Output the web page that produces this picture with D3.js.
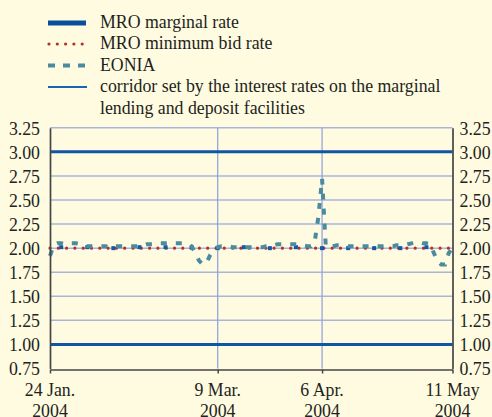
<!DOCTYPE html>
<html><head><meta charset="utf-8">
<script src="https://cdn.jsdelivr.net/npm/d3@7"></script>
<style>
html,body{margin:0;padding:0;background:#fefbe1;}
svg{display:block;}
</style></head>
<body><svg id="c" width="492" height="417"></svg>
<script>
// ---- data ----
const startDate = "2004-01-24";
const endDate = "2004-05-11";
// EONIA, one value per calendar day from 24 Jan 2004 to 11 May 2004
const eoniaValues = [
1.92,2.03,2.05,2.05,2.04,2.05,2.05,2.05,2.04,2.03,
2.02,2.02,2.02,2.02,2.02,2.02,2.01,2.01,2.02,2.02,
2.02,2.02,2.02,2.02,2.02,2.03,2.04,2.04,2.04,2.05,
2.05,2.05,2.05,2.05,2.05,2.05,2.05,2.04,2.02,1.95,
1.87,1.83,1.85,1.93,1.99,2.01,2.02,2.02,2.02,2.01,
2.01,2.01,2.01,2.01,2.01,2.01,2.01,2.01,2.02,2.02,
2.03,2.04,2.04,2.04,2.04,2.04,2.04,2.04,2.03,2.02,
2.02,2.06,2.32,2.72,2.02,2.01,2.02,2.03,2.03,2.03,
2.02,2.02,2.02,2.02,2.02,2.02,2.02,2.02,2.02,2.02,
2.02,2.02,2.02,2.03,2.03,2.03,2.04,2.05,2.06,2.06,
2.05,2.05,2.04,1.95,1.86,1.83,1.83,1.95,2.00];
// MRO marginal rate (weekly main refinancing operations)
const mroDates = ["2004-01-27","2004-02-03","2004-02-10","2004-02-17","2004-02-24","2004-03-02","2004-03-09","2004-03-16","2004-03-23","2004-03-30","2004-04-06","2004-04-13","2004-04-20","2004-04-27","2004-05-04"];
const mroMarginal = [2.01,2.01,2.00,2.01,2.01,2.01,2.00,2.01,2.00,2.01,2.00,2.00,2.00,2.00,2.01];
// MRO minimum bid rate
const minBidDates = ["2004-01-24","2004-05-11"];
const minBidRate = [2.00,2.00];
// corridor: marginal lending and deposit facility rates
const corridorDates = ["2004-01-24","2004-05-11"];
const lendingRate = [3.00,3.00];
const depositRate = [1.00,1.00];
// axes
const yTicks = [0.75,1.00,1.25,1.50,1.75,2.00,2.25,2.50,2.75,3.00,3.25];
const xTickDates = ["2004-01-24","2004-03-09","2004-04-06","2004-05-11"];
const xTickLabels = [["24 Jan.","2004"],["9 Mar.","2004"],["6 Apr.","2004"],["11 May","2004"]];
const legendLabels = [["MRO marginal rate"],["MRO minimum bid rate"],["EONIA"],["corridor set by the interest rates on the marginal","lending and deposit facilities"]];

// ---- chart ----
const FONT = "'Liberation Serif', Tinos, 'Times New Roman', Times, 'DejaVu Serif', serif";
const FS = 17.8;
const parse = d3.utcParse("%Y-%m-%d");
const svg = d3.select("#c");
svg.append("rect").attr("width",492).attr("height",417).attr("fill","#fefbe1");

const x = d3.scaleUtc().domain([parse(startDate), parse(endDate)]).range([50, 452.5]);
const y = d3.scaleLinear().domain([0.75, 3.25]).range([368.5, 127.8]);

const C = {blue:"#0b4f9c", corridor:"#0f56a3", red:"#b3302e", teal:"#4a8b9e", grid:"#a9b6dc", vgrid:"#8d9de0", axis:"#454545"};

// horizontal gridlines
svg.append("g").selectAll("line").data(yTicks.filter(v=>v>0.75)).join("line")
  .attr("x1",x.range()[0]).attr("x2",x.range()[1])
  .attr("y1",d=>y(d)).attr("y2",d=>y(d))
  .attr("stroke",C.grid).attr("stroke-width",1.5);
// vertical gridlines
svg.append("g").selectAll("line").data(xTickDates.slice(1,3)).join("line")
  .attr("x1",d=>x(parse(d))).attr("x2",d=>x(parse(d)))
  .attr("y1",y(3.25)).attr("y2",y(0.75))
  .attr("stroke",C.vgrid).attr("stroke-width",1.2);

// corridor
const line = d3.line().x(d=>x(d[0])).y(d=>y(d[1]));
[lendingRate, depositRate].forEach(arr=>{
  svg.append("path").datum(corridorDates.map((d,i)=>[parse(d),arr[i]]))
    .attr("d",line).attr("fill","none").attr("stroke",C.corridor).attr("stroke-width",3);
});

// min bid rate (dotted)
svg.append("path").datum(minBidDates.map((d,i)=>[parse(d),minBidRate[i]]))
  .attr("d",line).attr("fill","none").attr("stroke",C.red).attr("stroke-width",3.2)
  .attr("stroke-linecap","round").attr("stroke-dasharray","0,8.3");

// MRO marginal rate squares
svg.append("g").selectAll("rect").data(mroDates.map((d,i)=>[parse(d),mroMarginal[i]])).join("rect")
  .attr("x",d=>x(d[0])-2).attr("y",d=>y(d[1])-2).attr("width",4).attr("height",4)
  .attr("fill","#1358a8");

// EONIA
const eoniaData = eoniaValues.map((v,i)=>[d3.utcDay.offset(parse(startDate), i), v]);
svg.append("path").datum(eoniaData).attr("d",line).attr("fill","none")
  .attr("stroke",C.teal).attr("stroke-width",4).attr("stroke-dasharray","6,9");

// axes
const yl = d3.axisLeft(y).tickValues(yTicks).tickFormat(d3.format(".2f")).tickSize(0).tickPadding(10);
const yr = d3.axisRight(y).tickValues(yTicks).tickFormat(d3.format(".2f")).tickSize(0).tickPadding(7);
const gl = svg.append("g").attr("transform","translate(50,0)").call(yl);
const gr = svg.append("g").attr("transform","translate(452.5,0)").call(yr);
[gl,gr].forEach(g=>{
  g.attr("font-family",FONT).attr("font-size",FS);
  g.select(".domain").attr("stroke",C.axis).attr("stroke-width",1.7);
  g.selectAll("text").attr("font-family",FONT).attr("font-size",FS).attr("fill","#231f20").attr("dy","0.36em");
});
const xa = d3.axisBottom(x).tickValues(xTickDates.map(parse)).tickFormat("").tickSizeInner(4).tickSizeOuter(0);
const gx = svg.append("g").attr("transform",`translate(0,${y(0.75)+1})`).call(xa);
gx.select(".domain").attr("stroke",C.axis).attr("stroke-width",1.7);
gx.selectAll(".tick line").attr("stroke",C.axis).attr("stroke-width",1.5);

const xl = svg.append("g").selectAll("text").data(xTickDates.map((d,i)=>[parse(d),xTickLabels[i]])).join("text")
  .attr("text-anchor","middle").attr("font-family",FONT).attr("font-size",FS).attr("fill","#231f20");
xl.each(function(d){
  const t = d3.select(this);
  d[1].forEach((s,j)=>t.append("tspan").attr("x",x(d[0])).attr("y",396+j*21).text(s));
});

// legend
const lg = svg.append("g");
const rowsY = [23,44,65.5,87];
lg.append("line").attr("x1",48).attr("x2",86).attr("y1",rowsY[0]).attr("y2",rowsY[0]).attr("stroke",C.blue).attr("stroke-width",5);
lg.append("line").attr("x1",49).attr("x2",86).attr("y1",rowsY[1]).attr("y2",rowsY[1]).attr("stroke",C.red).attr("stroke-width",3.2).attr("stroke-linecap","round").attr("stroke-dasharray","0,8.3");
lg.append("line").attr("x1",48).attr("x2",87).attr("y1",rowsY[2]).attr("y2",rowsY[2]).attr("stroke",C.teal).attr("stroke-width",4).attr("stroke-dasharray","7,8");
lg.append("line").attr("x1",48).attr("x2",87).attr("y1",rowsY[3]).attr("y2",rowsY[3]).attr("stroke","#1e63b0").attr("stroke-width",2);
const baseY = [28,49,70.5,92];
legendLabels.forEach((lines,i)=>{
  const t = lg.append("text").attr("x",100).attr("y",baseY[i]).attr("font-family",FONT).attr("font-size",FS).attr("fill","#231f20");
  lines.forEach((s,j)=>t.append("tspan").attr("x",100).attr("y",baseY[i]+j*21.5).text(s));
});
</script></body></html>
